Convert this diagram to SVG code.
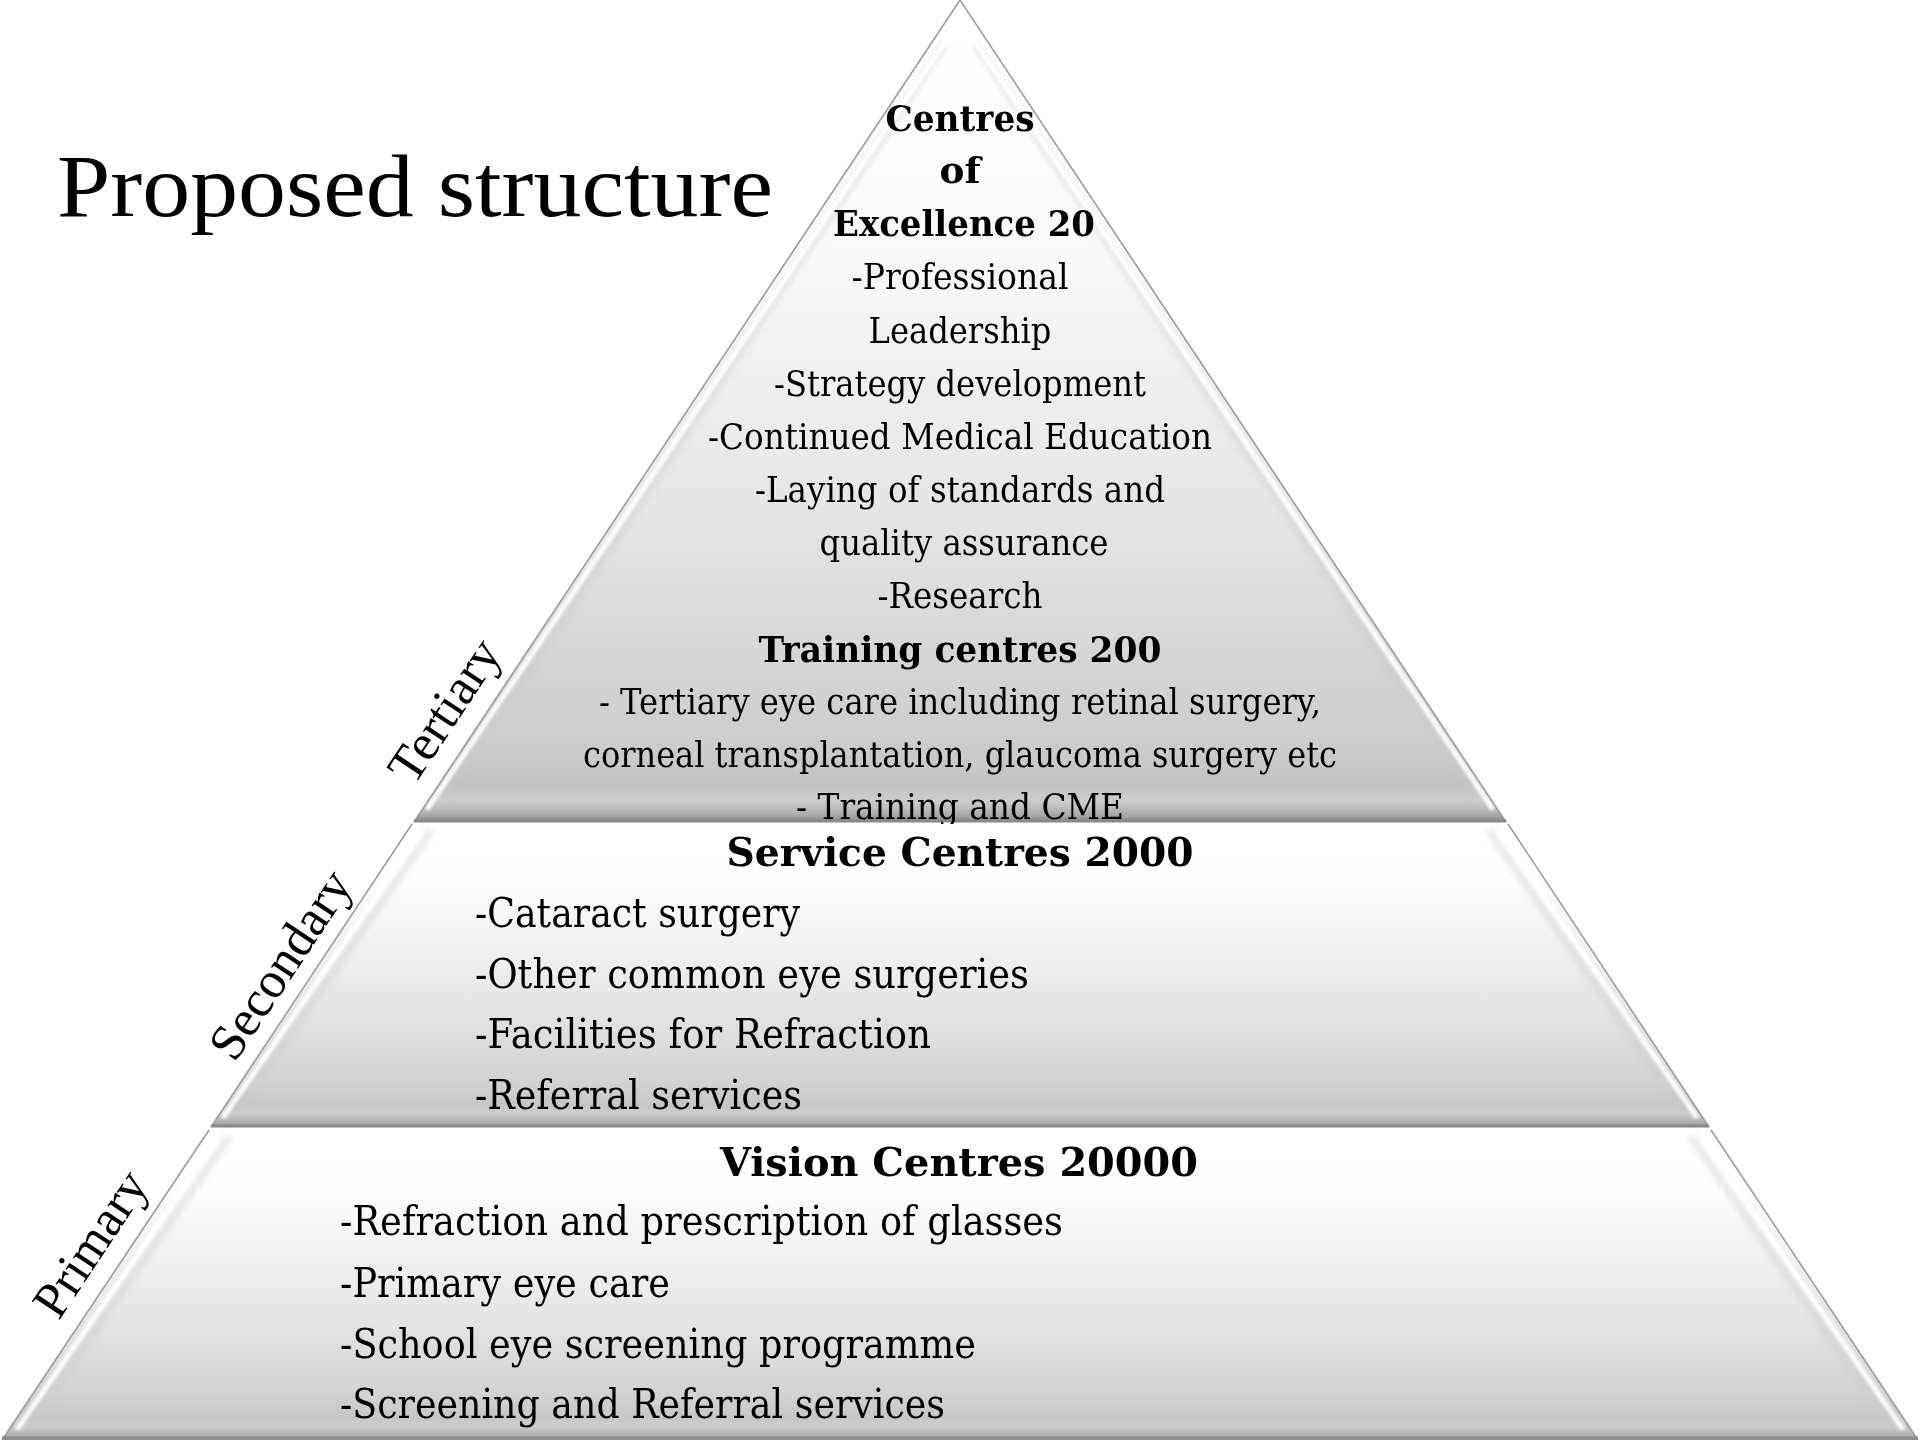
<svg xmlns="http://www.w3.org/2000/svg" width="1920" height="1440" viewBox="0 0 1920 1440">
  <defs>
    <style>
      .txt { font-family: "DejaVu Serif", "Liberation Serif", Georgia, serif; fill: #000; }
      .body { font-size: 35px; }
      .body2 { font-size: 41px; }
      .head { font-weight: bold; }
      .head2 { font-size: 40px; font-weight: bold; }
      .title { font-family: "Liberation Serif", "Times New Roman", serif; font-size: 88px; fill: #000; }
      .side { font-family: "Liberation Serif", "Times New Roman", serif; font-size: 51px; fill: #000; }
      .edge { fill: none; stroke: #9c9c9c; stroke-width: 1.6; }
      .base { fill: none; stroke: #8a8a8a; stroke-width: 3; }
      .hl { fill: none; stroke: #ffffff; stroke-width: 5; stroke-linecap: round; opacity: 0.95; }
      .sh { fill: none; stroke: #c9c9c9; stroke-width: 6; stroke-linecap: round; opacity: 0.5; }
    </style>
    <linearGradient id="gTop" x1="0" y1="0" x2="0" y2="1">
      <stop offset="0" stop-color="#ffffff"/>
      <stop offset="0.3" stop-color="#f9f9f9"/>
      <stop offset="0.6" stop-color="#e7e7e7"/>
      <stop offset="0.9" stop-color="#cdcdcd"/>
      <stop offset="0.955" stop-color="#c3c3c3"/>
      <stop offset="0.975" stop-color="#cccccc"/>
      <stop offset="0.99" stop-color="#adadad"/>
      <stop offset="1" stop-color="#8a8a8a"/>
    </linearGradient>
    <linearGradient id="gTier" x1="0" y1="0" x2="0" y2="1">
      <stop offset="0" stop-color="#ffffff"/>
      <stop offset="0.18" stop-color="#fdfdfd"/>
      <stop offset="0.5" stop-color="#ececec"/>
      <stop offset="0.85" stop-color="#d3d3d3"/>
      <stop offset="0.93" stop-color="#c6c6c6"/>
      <stop offset="0.955" stop-color="#cecece"/>
      <stop offset="0.985" stop-color="#b0b0b0"/>
      <stop offset="1" stop-color="#8c8c8c"/>
    </linearGradient>
    <filter id="soft" x="-5%" y="-5%" width="110%" height="110%">
      <feGaussianBlur stdDeviation="1.6"/>
    </filter>
    <filter id="softer" x="-5%" y="-5%" width="110%" height="110%">
      <feGaussianBlur stdDeviation="3"/>
    </filter>
  </defs>

  <rect width="1920" height="1440" fill="#ffffff"/>

  <!-- Heading -->
  <g id="title">
    <text class="title" x="57" y="216" textLength="716" lengthAdjust="spacingAndGlyphs">Proposed structure</text>
  </g>

  <!-- Top tier: tertiary care -->
  <g id="tier-tertiary">
    <polygon points="960,0 1506,822 414,822" fill="url(#gTop)"/>
    <g filter="url(#softer)">
      <line class="sh" x1="944" y1="45" x2="440" y2="804"/>
      <line class="sh" x1="976" y1="45" x2="1480" y2="804"/>
    </g>
    <g filter="url(#soft)">
      <line class="hl" x1="953" y1="30" x2="428" y2="808"/>
      <line class="hl" x1="967" y1="30" x2="1492" y2="808"/>
    </g>
    <polyline class="edge" points="414,822 960,0 1506,822"/>
    <line class="base" x1="414" y1="821" x2="1506" y2="821"/>
    <text class="txt body head" x="960" y="131" text-anchor="middle" textLength="149" lengthAdjust="spacingAndGlyphs">Centres</text>
    <text class="txt body head" x="960" y="183" text-anchor="middle" textLength="41" lengthAdjust="spacingAndGlyphs">of</text>
    <text class="txt body head" x="964" y="236" text-anchor="middle" textLength="262" lengthAdjust="spacingAndGlyphs">Excellence 20</text>
    <text class="txt body" x="960" y="289" text-anchor="middle" textLength="217" lengthAdjust="spacingAndGlyphs">-Professional</text>
    <text class="txt body" x="960" y="343" text-anchor="middle" textLength="183" lengthAdjust="spacingAndGlyphs">Leadership</text>
    <text class="txt body" x="960" y="396" text-anchor="middle" textLength="372" lengthAdjust="spacingAndGlyphs">-Strategy development</text>
    <text class="txt body" x="960" y="449" text-anchor="middle" textLength="504" lengthAdjust="spacingAndGlyphs">-Continued Medical Education</text>
    <text class="txt body" x="960" y="502" text-anchor="middle" textLength="410" lengthAdjust="spacingAndGlyphs">-Laying of standards and</text>
    <text class="txt body" x="964" y="555" text-anchor="middle" textLength="289" lengthAdjust="spacingAndGlyphs">quality assurance</text>
    <text class="txt body" x="960" y="608" text-anchor="middle" textLength="165" lengthAdjust="spacingAndGlyphs">-Research</text>
    <text class="txt body head" x="960" y="662" text-anchor="middle" textLength="403" lengthAdjust="spacingAndGlyphs">Training centres 200</text>
    <text class="txt body" x="960" y="714" text-anchor="middle" textLength="722" lengthAdjust="spacingAndGlyphs">- Tertiary eye care including retinal surgery,</text>
    <text class="txt body" x="960" y="767" text-anchor="middle" textLength="754" lengthAdjust="spacingAndGlyphs">corneal transplantation, glaucoma surgery etc</text>
    <text class="txt body" x="960" y="819" text-anchor="middle" textLength="328" lengthAdjust="spacingAndGlyphs">- Training and CME</text>
  </g>

  <!-- Middle tier: secondary care -->
  <g id="tier-secondary">
    <polygon points="412,824 1508,824 1709,1127 211,1127" fill="url(#gTier)"/>
    <g filter="url(#softer)">
      <line class="sh" x1="430" y1="832" x2="236" y2="1112"/>
      <line class="sh" x1="1490" y1="832" x2="1684" y2="1112"/>
    </g>
    <g filter="url(#soft)">
      <line class="hl" x1="420" y1="834" x2="224" y2="1116"/>
      <line class="hl" x1="1500" y1="834" x2="1696" y2="1116"/>
    </g>
    <line class="edge" x1="412" y1="824" x2="211" y2="1127"/>
    <line class="edge" x1="1508" y1="824" x2="1709" y2="1127"/>
    <line class="base" x1="211" y1="1126" x2="1709" y2="1126"/>
    <text class="txt head2" x="960" y="866" text-anchor="middle" textLength="467" lengthAdjust="spacingAndGlyphs">Service Centres 2000</text>
    <text class="txt body2" x="475" y="927" textLength="325" lengthAdjust="spacingAndGlyphs">-Cataract surgery</text>
    <text class="txt body2" x="475" y="988" textLength="554" lengthAdjust="spacingAndGlyphs">-Other common eye surgeries</text>
    <text class="txt body2" x="475" y="1048" textLength="456" lengthAdjust="spacingAndGlyphs">-Facilities for Refraction</text>
    <text class="txt body2" x="475" y="1109" textLength="327" lengthAdjust="spacingAndGlyphs">-Referral services</text>
  </g>

  <!-- Bottom tier: primary care -->
  <g id="tier-primary">
    <polygon points="209,1130 1711,1130 1918,1440 2,1440" fill="url(#gTier)"/>
    <g filter="url(#softer)">
      <line class="sh" x1="228" y1="1138" x2="30" y2="1424"/>
      <line class="sh" x1="1692" y1="1138" x2="1890" y2="1424"/>
    </g>
    <g filter="url(#soft)">
      <line class="hl" x1="217" y1="1140" x2="18" y2="1428"/>
      <line class="hl" x1="1703" y1="1140" x2="1902" y2="1428"/>
    </g>
    <line class="edge" x1="209" y1="1130" x2="2" y2="1440"/>
    <line class="edge" x1="1711" y1="1130" x2="1918" y2="1440"/>
    <line class="base" x1="2" y1="1438" x2="1918" y2="1438"/>
    <text class="txt head2" x="959" y="1176" text-anchor="middle" textLength="478" lengthAdjust="spacingAndGlyphs">Vision Centres 20000</text>
    <text class="txt body2" x="340" y="1235" textLength="723" lengthAdjust="spacingAndGlyphs">-Refraction and prescription of glasses</text>
    <text class="txt body2" x="340" y="1297" textLength="330" lengthAdjust="spacingAndGlyphs">-Primary eye care</text>
    <text class="txt body2" x="340" y="1358" textLength="636" lengthAdjust="spacingAndGlyphs">-School eye screening programme</text>
    <text class="txt body2" x="340" y="1418" textLength="605" lengthAdjust="spacingAndGlyphs">-Screening and Referral services</text>
  </g>

  <!-- Level names set along the left slope -->
  <g id="level-labels">
    <text class="side" transform="translate(445,711) rotate(-56.4)" x="0" y="16" text-anchor="middle">Tertiary</text>
    <text class="side" transform="translate(281,965) rotate(-56.4)" x="0" y="16" text-anchor="middle">Secondary</text>
    <text class="side" transform="translate(91,1244) rotate(-56.4)" x="0" y="16" text-anchor="middle">Primary</text>
  </g>
</svg>
